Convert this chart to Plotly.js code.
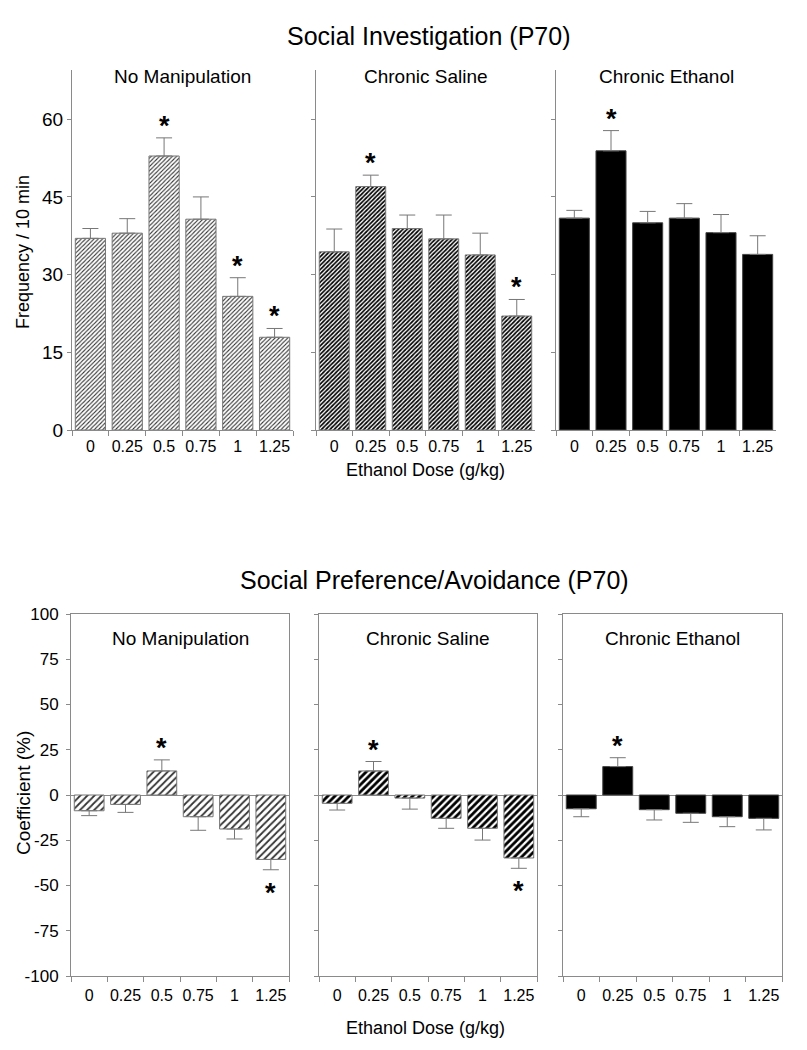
<!DOCTYPE html>
<html><head><meta charset="utf-8">
<script src="https://cdn.plot.ly/plotly-3.0.1.min.js"></script>
<style>body{margin:0;background:#fff}#chart{width:807px;height:1050px}</style>
</head><body><div id="chart"></div>
<script>
// ---- data ----
const doses = ['0', '0.25', '0.5', '0.75', '1', '1.25'];
const groups = ['No Manipulation', 'Chronic Saline', 'Chronic Ethanol'];

// Social Investigation (frequency / 10 min)
const siNoManip = [37.0, 38.0, 52.9, 40.7, 25.8, 17.9];
const siNoManipSE = [1.9, 2.8, 3.5, 4.3, 3.6, 1.7];
const siNoManipSig = [0, 0, 1, 0, 1, 1];
const siSaline = [34.4, 47.0, 38.9, 36.9, 33.8, 22.0];
const siSalineSE = [4.4, 2.2, 2.6, 4.6, 4.2, 3.2];
const siSalineSig = [0, 1, 0, 0, 0, 1];
const siEthanol = [40.9, 53.9, 40.0, 40.9, 38.1, 33.9];
const siEthanolSE = [1.5, 3.9, 2.2, 2.8, 3.5, 3.6];
const siEthanolSig = [0, 1, 0, 0, 0, 0];

// Social Preference/Avoidance (coefficient %)
const spNoManip = [-8.7, -5.2, 13.3, -12.0, -18.8, -35.6];
const spNoManipSE = [2.7, 4.4, 6.1, 7.5, 5.5, 5.7];
const spNoManipSig = [0, 0, 1, 0, 0, 1];
const spSaline = [-4.6, 13.3, -1.7, -12.9, -18.4, -34.8];
const spSalineSE = [3.7, 5.2, 6.1, 5.5, 6.5, 5.7];
const spSalineSig = [0, 1, 0, 0, 0, 1];
const spEthanol = [-7.6, 15.7, -8.1, -10.1, -12.0, -12.9];
const spEthanolSE = [4.4, 4.9, 5.7, 5.0, 5.5, 6.4];
const spEthanolSig = [0, 1, 0, 0, 0, 0];

const siTicks = [0, 15, 30, 45, 60];
const siTickText = ['0', '15', '30', '45', '60'];
const spTicks = [-100, -75, -50, -25, 0, 25, 50, 75, 100];
const spTickText = ['-100', '-75', '-50', '-25', '0', '25', '50', '75', '100'];

// ---- build ----
const FONT = 'Liberation Sans, Arial, sans-serif';
const AX = '#8a8a8a';
const W = 807, H = 1050;
const px = v => v / W;
const py = v => 1 - v / H;

const panels = [
  {m: siNoManip, se: siNoManipSE, sig: siNoManipSig, style: 0, row: 0},
  {m: siSaline, se: siSalineSE, sig: siSalineSig, style: 1, row: 0},
  {m: siEthanol, se: siEthanolSE, sig: siEthanolSig, style: 2, row: 0},
  {m: spNoManip, se: spNoManipSE, sig: spNoManipSig, style: 0, row: 1},
  {m: spSaline, se: spSalineSE, sig: spSalineSig, style: 1, row: 1},
  {m: spEthanol, se: spEthanolSE, sig: spEthanolSig, style: 2, row: 1}
];
const xDom = [[72, 293], [316, 535], [556, 776], [71, 289], [319, 537], [563, 782]];
const yDomTop = [430, 70];
const yDomBot = [976, 614];

function markerFor(style, row) {
  const ps = row === 0 ? 3 : 5;
  if (style === 0) return {color: '#ffffff', line: {color: '#777', width: 1},
    pattern: {shape: '/', fgcolor: '#333333', bgcolor: '#ffffff', size: ps, solidity: 0.35}};
  if (style === 1) return {color: '#ffffff', line: {color: '#777', width: 1},
    pattern: {shape: '/', fgcolor: '#000000', bgcolor: '#ffffff', size: ps, solidity: 0.55}};
  return {color: '#000000', line: {color: '#444', width: 1}};
}

const traces = [];
const annotations = [];
const layout = {
  width: W, height: H,
  margin: {l: 0, r: 0, t: 0, b: 0},
  paper_bgcolor: '#fff', plot_bgcolor: 'rgba(0,0,0,0)',
  showlegend: false,
  bargap: 0.18,
  font: {family: FONT, color: '#000'}
};

panels.forEach((p, i) => {
  const k = i + 1;
  const xa = 'x' + (k === 1 ? '' : k), ya = 'y' + (k === 1 ? '' : k);
  traces.push({
    type: 'bar', x: doses, y: p.m, xaxis: xa, yaxis: ya,
    marker: markerFor(p.style, p.row),
    error_y: {type: 'data', symmetric: false,
      array: p.m.map((v, j) => v >= 0 ? p.se[j] : 0),
      arrayminus: p.m.map((v, j) => v < 0 ? p.se[j] : 0),
      color: '#777', thickness: 1, width: 8},
    hoverinfo: 'skip'
  });
  const top = p.row === 0;
  layout['xaxis' + (k === 1 ? '' : k)] = {
    domain: [px(xDom[i][0]), px(xDom[i][1])], anchor: ya, type: 'category',
    range: [-0.5, 5.5], tickson: 'boundaries', ticks: 'outside', ticklen: 5,
    tickcolor: AX, showline: true, linecolor: AX, linewidth: 1, mirror: !top,
    showgrid: false, zeroline: false, tickangle: 0, ticklabelstandoff: top ? 2 : 5,
    tickfont: {size: 16, family: FONT}, fixedrange: true
  };
  layout['yaxis' + (k === 1 ? '' : k)] = {
    domain: top ? [py(yDomTop[0]), py(yDomTop[1])] : [py(yDomBot[0]), py(yDomBot[1])],
    anchor: xa, range: top ? [0, 69.5] : [-100, 100],
    tickvals: top ? siTicks : spTicks, ticktext: top ? siTickText : spTickText,
    ticks: 'outside', ticklen: 4, tickcolor: AX,
    showline: true, linecolor: AX, linewidth: 1, mirror: !top,
    showgrid: false, zeroline: !top, zerolinecolor: AX, zerolinewidth: 1,
    showticklabels: (i % 3) === 0, tickfont: {size: top ? 19 : 17, family: FONT},
    ticklabelstandoff: top ? 0 : 4,
    fixedrange: true
  };
  // panel title
  annotations.push({xref: 'paper', yref: 'paper', x: px((xDom[i][0] + xDom[i][1]) / 2),
    y: py(top ? 76 : 638), text: groups[i % 3], showarrow: false,
    xanchor: 'center', yanchor: 'middle', font: {size: 19, family: FONT}});
  // significance stars
  p.m.forEach((v, j) => {
    if (!p.sig[j]) return;
    const up = v >= 0;
    annotations.push({xref: xa, yref: ya, x: j, y: up ? v + p.se[j] : v - p.se[j],
      text: '<b>*</b>', showarrow: false, xanchor: 'center', yanchor: 'middle',
      yshift: up ? 12 : -23, font: {size: 27, family: FONT}});
  });
});

// figure titles and axis titles
annotations.push({xref: 'paper', yref: 'paper', x: px(428), y: py(36), text: 'Social Investigation (P70)',
  showarrow: false, xanchor: 'center', yanchor: 'middle', font: {size: 25, family: FONT}});
annotations.push({xref: 'paper', yref: 'paper', x: px(434), y: py(580), text: 'Social Preference/Avoidance (P70)',
  showarrow: false, xanchor: 'center', yanchor: 'middle', font: {size: 25, family: FONT}});
annotations.push({xref: 'paper', yref: 'paper', x: px(425), y: py(470), text: 'Ethanol Dose (g/kg)',
  showarrow: false, xanchor: 'center', yanchor: 'middle', font: {size: 18, family: FONT}});
annotations.push({xref: 'paper', yref: 'paper', x: px(425), y: py(1028), text: 'Ethanol Dose (g/kg)',
  showarrow: false, xanchor: 'center', yanchor: 'middle', font: {size: 18, family: FONT}});
annotations.push({xref: 'paper', yref: 'paper', x: px(23), y: py(252), text: 'Frequency / 10 min',
  textangle: -90, showarrow: false, xanchor: 'center', yanchor: 'middle', font: {size: 18, family: FONT}});
annotations.push({xref: 'paper', yref: 'paper', x: px(23), y: py(793), text: 'Coefficient (%)',
  textangle: -90, showarrow: false, xanchor: 'center', yanchor: 'middle', font: {size: 19, family: FONT}});

layout.annotations = annotations;
Plotly.newPlot('chart', traces, layout, {displayModeBar: false, staticPlot: true});
</script>
</body></html>
